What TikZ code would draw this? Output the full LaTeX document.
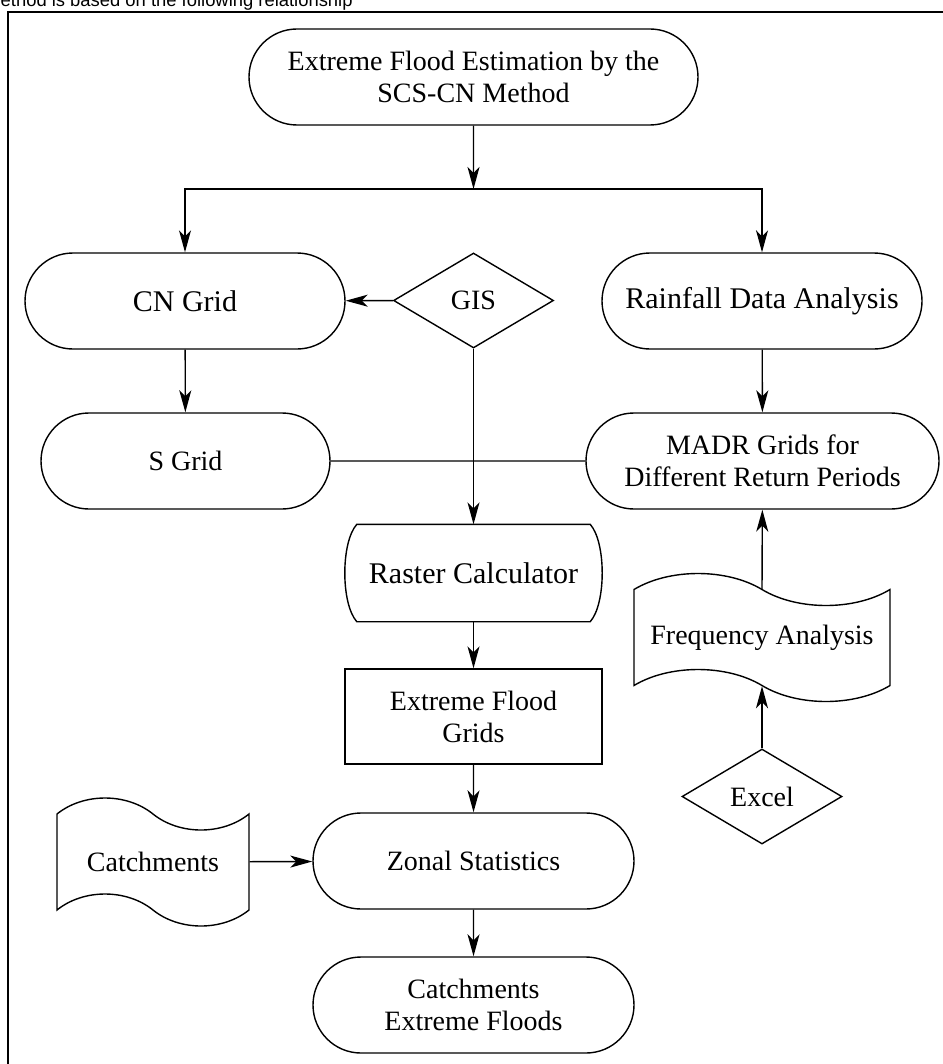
\documentclass[tikz,border=0pt]{standalone}
\usepackage{fontspec}
\setmainfont{Liberation Serif}
\newfontfamily\notefont{Liberation Sans}
\usetikzlibrary{shapes.misc,shapes.geometric,shapes.symbols,arrows.meta}
\begin{document}
\begin{tikzpicture}[x=0.5pt,y=-0.5pt,line width=0.7pt,
    every node/.style={font=\fontsize{14}{16}\selectfont,align=center,inner sep=0pt},
    big/.style={font=\fontsize{15}{17}\selectfont},
    term/.style={draw,rounded rectangle,minimum height=48pt},
    proc/.style={draw,rectangle,minimum height=47.5pt},
    deci/.style={draw,diamond,minimum width=80pt,minimum height=47.5pt},
    tapebox/.style={draw,tape,tape bend top=out and in,tape bend bottom=out and in,tape bend height=16pt,minimum height=64pt},
    arr/.style={-{Stealth[length=11pt,width=6pt,inset=3pt]}}]
        \useasboundingbox (0,0) rectangle (942,1064);
        % cut-off caption line and frame
        \node [font=\notefont\fontsize{9.2}{11}\selectfont,anchor=base west] (note) at (0,6.5) {ethod is based on the following relationship};
        \draw [line width=1pt] (8,1080) -- (8,12) -- (960,12);
        % nodes
        \node [term,minimum width=224.5pt] (top) at (473.5,77) {Extreme Flood Estimation by the\\SCS-CN Method};
        \node [term,big,minimum width=160pt] (cn) at (185,301) {CN Grid};
        \node [deci] (gis) at (473.5,300.5) {GIS};
        \node [term,big,minimum width=160pt] (rain) at (762,301) {Rainfall Data Analysis};
        \node [term,minimum width=144.5pt] (sgrid) at (185.5,461) {S Grid};
        \node [term,minimum width=176.5pt] (madr) at (762.5,461) {MADR Grids for\\Different Return Periods};
        \node [big,minimum width=116pt,minimum height=48pt] (raster) at (473.5,573) {Raster Calculator};
        \draw (raster.north west) -- (raster.north east) .. controls +(8pt,-9pt) and +(8pt,9pt) .. (raster.south east) -- (raster.south west) .. controls +(-8pt,9pt) and +(-8pt,-9pt) .. (raster.north west) -- cycle;
        \node [tapebox,minimum width=128pt] (freq) at (762,637.5) {Frequency Analysis};
        \node [proc,minimum width=128.5pt] (efg) at (473.5,716.5) {Extreme Flood\\Grids};
        \node [deci] (excel) at (762,796.5) {Excel};
        \node [tapebox,minimum width=96pt] (catch) at (153,862) {Catchments};
        \node [term,minimum width=160.5pt] (zonal) at (473.5,861) {Zonal Statistics};
        \node [term,minimum width=160.5pt] (cef) at (473.5,1005) {Catchments\\Extreme Floods};
        % connectors
        \coordinate (split) at (473.5,189);
        \draw [arr] (top) -- (split);
        \draw [arr] (split) -| (cn);
        \draw [arr] (split) -| (rain);
        \draw [arr] (gis) -- (cn);
        \draw [arr] (cn) -- (sgrid);
        \draw (sgrid) -- (madr);
        \draw [arr] (gis) -- (raster);
        \draw [arr] (rain) -- (madr);
        \draw [arr] (freq.north) -- (madr);
        \draw [arr] (excel) -- (freq.south);
        \draw [arr] (raster) -- (efg);
        \draw [arr] (efg) -- (zonal);
        \draw [arr] (catch) -- (zonal);
        \draw [arr] (zonal) -- (cef);
\end{tikzpicture}
\end{document}
